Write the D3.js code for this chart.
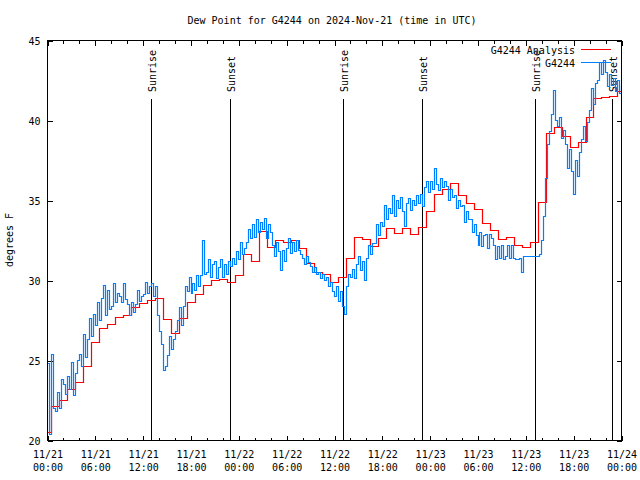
<!DOCTYPE html>
<html><head><meta charset="utf-8">
<script src="https://cdn.jsdelivr.net/npm/d3@7"></script>
<style>
body{margin:0;background:#fff;}
svg{display:block;}
text{font-family:"DejaVu Sans Mono","Liberation Mono",monospace;font-size:10px;fill:#000;}
</style></head><body>
<svg id="chart" width="640" height="480"></svg>
<script>
// ---------- data ----------
const chartTitle = "Dew Point for G4244 on 2024-Nov-21 (time in UTC)";
const yAxisLabel = "degrees F";
const seriesNames = ["G4244 Analysis", "G4244"];
const seriesColors = ["#ff0000", "#0080ff"];
const startISO = "2024-11-21T00:00:00Z";
const endISO = "2024-11-24T00:00:00Z";
const yTickValues = [20, 25, 30, 35, 40, 45];
const xMajorTickHours = [0, 6, 12, 18, 24, 30, 36, 42, 48, 54, 60, 66, 72];
const xMinorTickHours = [2, 4, 8, 10, 14, 16, 20, 22, 26, 28, 32, 34, 38, 40, 44, 46, 50, 52, 56, 58, 62, 64, 68, 70];
const sunLabels = ["Sunrise", "Sunset", "Sunrise", "Sunset", "Sunrise", "Sunset"];
const sunTimes = ["2024-11-21T12:59:00Z", "2024-11-21T22:54:00Z", "2024-11-22T13:04:00Z",
                  "2024-11-22T22:59:00Z", "2024-11-23T13:09:00Z", "2024-11-23T22:56:00Z"];

// hourly analysis (first value at 00:00, then at hh:33 each hour)
const analysisMinuteOffset = 33;
const analysisValues = [
 20.5, 22.1, 22.5, 23.2, 23.6, 24.6, 26.1, 27.0, 27.25, 27.7, 27.8, 28.3,
 28.55, 28.75, 28.85, 27.55, 26.67, 27.6, 28.6, 29.1, 29.7, 30.0, 30.05, 29.85,
 30.3, 31.6, 31.2, 33.05, 32.05, 32.5, 32.38, 32.5, 32.0, 31.05, 30.5, 30.35,
 29.85, 30.17, 31.35, 32.67, 32.54, 32.1, 32.6, 33.23, 32.96, 33.23, 32.88, 33.29,
 34.33, 35.38, 35.7, 36.04, 35.3, 34.8, 34.44, 33.54, 33.1, 32.54, 32.67, 32.17,
 32.04, 32.36, 34.85, 39.17, 39.54, 39.0, 38.3, 38.65, 40.2, 41.35, 41.42, 41.5, 41.8
];

// observations every 15 minutes from 00:00
const obsStepMinutes = 15;
const obsValues = [
 24.8,20.4,25.4,22.0, 21.8,23.0,22.0,23.8, 23.5,22.9,24.0,23.2, 24.9,22.8,24.2,25.0,
 25.4,24.6,26.6,25.2, 26.3,27.6,26.5,27.9, 27.2,28.6,27.5,28.9, 29.7,27.8,29.4,28.2,
 28.4,29.8,28.6,29.2, 29.0,28.6,29.8,28.8, 28.5,27.8,28.6,28.0, 28.5,29.4,28.7,29.0,
 29.1,29.9,29.2,29.6, 29.8,29.0,29.6,27.8, 26.8,26.0,24.4,24.6, 25.3,26.5,25.7,26.3,
 26.8,27.5,28.3,27.2, 28.4,29.6,29.3,30.2, 29.2,29.8,29.4,30.3, 29.6,30.3,32.5,30.4,
 30.5,31.3,30.2,31.0, 31.2,30.1,30.8,31.3, 30.2,31.0,30.4,31.2, 30.9,31.4,31.0,31.8,
 31.3,32.4,31.6,32.0, 32.4,33.2,32.6,33.5, 32.7,33.8,33.0,33.6, 33.2,33.9,32.6,33.5,
 33.0,32.2,31.5,32.4, 31.8,30.6,31.9,31.2, 32.0,32.6,31.7,32.4, 31.8,32.5,31.9,31.6,
 31.4,31.0,31.5,31.1, 30.9,30.5,30.8,30.4, 30.5,30.1,30.4,30.0, 30.2,29.6,29.9,29.3,
 29.0,29.6,28.7,29.3, 28.4,27.9,29.6,30.4, 30.2,30.7,30.1,31.0, 31.5,30.6,31.2,30.0,
 31.4,32.2,31.6,32.3, 32.3,33.5,32.8,33.6, 33.4,34.7,33.8,34.5, 34.2,35.3,34.0,35.0,
 34.5,35.2,34.3,33.4, 34.8,35.1,34.4,35.0, 34.7,35.3,34.8,35.4, 34.6,35.8,36.2,35.5,
 36.2,35.7,37.0,36.0, 35.6,36.4,35.8,36.2, 35.9,35.0,35.7,35.2, 35.3,34.5,35.0,34.6,
 34.7,33.6,34.3,33.8, 33.8,33.0,33.5,32.8, 32.2,33.0,32.1,32.8, 32.9,32.0,32.9,32.6,
 32.2,31.3,32.1,31.4, 32.2,31.3,31.5,32.2, 31.4,32.2,31.4,31.3, 31.3,31.4,30.5,31.5,
 31.5,31.5,31.5,31.5, 31.5,31.5,31.5,31.6, 32.5,34.0,36.4,38.5, 39.3,40.4,41.9,40.0,
 39.6,40.2,38.9,39.4, 38.5,37.0,38.2,36.8, 35.4,37.5,36.5,38.0, 38.8,39.6,38.7,39.9,
 40.6,42.0,41.0,42.3, 42.5,43.6,42.9,43.75, 43.0,42.1,42.9,42.2, 42.6,41.8,42.5,41.7,
 42.2
];

// ---------- build ----------
const HOUR = 3600e3, MIN = 60e3;
const t0 = new Date(startISO).getTime();
const t1 = new Date(endISO).getTime();

const analysis = analysisValues.map((v, i) => ({
  t: new Date(i === 0 ? t0 : t0 + (i - 1) * HOUR + analysisMinuteOffset * MIN), v }));
analysis.push({ t: new Date(t1), v: analysisValues[analysisValues.length - 1] });
const obs = obsValues.map((v, i) => ({ t: new Date(t0 + i * obsStepMinutes * MIN), v }));

const L = 47.5, R = 621.5, T = 40.5, B = 440.5;
const svg = d3.select("#chart");
const x = d3.scaleUtc().domain([new Date(t0), new Date(t1)]).range([L, R]);
const y = d3.scaleLinear().domain([20, 45]).range([B, T]);
const px = v => Math.round(v - 0.5) + 0.5;

svg.append("defs").append("clipPath").attr("id", "clip")
  .append("rect").attr("x", L - 0.5).attr("y", T - 0.5).attr("width", R - L + 1).attr("height", B - T + 1);

// title
svg.append("text").attr("x", 332).attr("y", 23.5).attr("text-anchor", "middle").text(chartTitle);

// y label
svg.append("text").attr("transform", "translate(12.5,240) rotate(-90)")
  .attr("text-anchor", "middle").text(yAxisLabel);

const majors = xMajorTickHours.map(h => new Date(t0 + h * HOUR));
const minors = xMinorTickHours.map(h => new Date(t0 + h * HOUR));

function axisG(axis, tx, ty) {
  const g = svg.append("g").attr("transform", `translate(${tx},${ty})`)
    .attr("shape-rendering", "crispEdges").call(axis);
  g.select(".domain").remove();
  g.selectAll(".tick line").attr("stroke", "#000");
  return g;
}
const gb = axisG(d3.axisBottom(x).tickValues(majors).tickSize(-5).tickFormat(""), 0, B);
gb.selectAll(".tick text").remove();
gb.selectAll(".tick").append("text").attr("text-anchor", "middle")
  .each(function (d) {
    const t = d3.select(this);
    t.append("tspan").attr("x", 0).attr("y", 17.5).text(d3.utcFormat("%m/%d")(d));
    t.append("tspan").attr("x", 0).attr("y", 30).text(d3.utcFormat("%H:%M")(d));
  });
axisG(d3.axisBottom(x).tickValues(minors).tickSize(-3).tickFormat(""), 0, B);
axisG(d3.axisTop(x).tickValues(majors).tickSize(-5).tickFormat(""), 0, T);
axisG(d3.axisTop(x).tickValues(minors).tickSize(-3).tickFormat(""), 0, T);

const gl = axisG(d3.axisLeft(y).tickValues(yTickValues).tickSize(-5).tickPadding(7), L, 0);
gl.selectAll(".tick text").attr("dy", "0.38em")
  .style("font-family", '"DejaVu Sans Mono","Liberation Mono",monospace').style("font-size", "10px");
axisG(d3.axisRight(y).tickValues(yTickValues).tickSize(-5).tickFormat(""), R, 0);

// sun lines
sunTimes.forEach((s, i) => {
  const sx = px(x(new Date(s)));
  svg.append("line").attr("x1", sx).attr("x2", sx).attr("y1", 99).attr("y2", B)
    .attr("stroke", "#000").attr("stroke-width", 1);
  svg.append("text").attr("transform", `translate(${sx + 4.3},92) rotate(-90)`)
    .attr("text-anchor", "start").text(sunLabels[i]);
});

// series (snapped to pixel centres for crisp 1px lines)
const line = d3.line().x(d => px(x(d.t))).y(d => px(y(d.v))).curve(d3.curveStepAfter);
const plot = svg.append("g").attr("clip-path", "url(#clip)");
plot.append("path").datum(analysis).attr("d", line).attr("fill", "none")
  .attr("stroke", seriesColors[0]).attr("stroke-width", 1.2);
plot.append("path").datum(obs).attr("d", line).attr("fill", "none")
  .attr("stroke", seriesColors[1]).attr("stroke-width", 1.2);

// legend
seriesNames.forEach((n, i) => {
  const ly = 49.5 + i * 13;
  svg.append("text").attr("x", 575).attr("y", ly + 4.3).attr("text-anchor", "end").text(n);
  svg.append("line").attr("x1", 581).attr("x2", 611).attr("y1", ly).attr("y2", ly)
    .attr("stroke", seriesColors[i]).attr("stroke-width", 1);
});

// border
svg.append("rect").attr("x", L).attr("y", T).attr("width", R - L).attr("height", B - T)
  .attr("fill", "none").attr("stroke", "#000").attr("stroke-width", 1);
</script>
</body></html>
